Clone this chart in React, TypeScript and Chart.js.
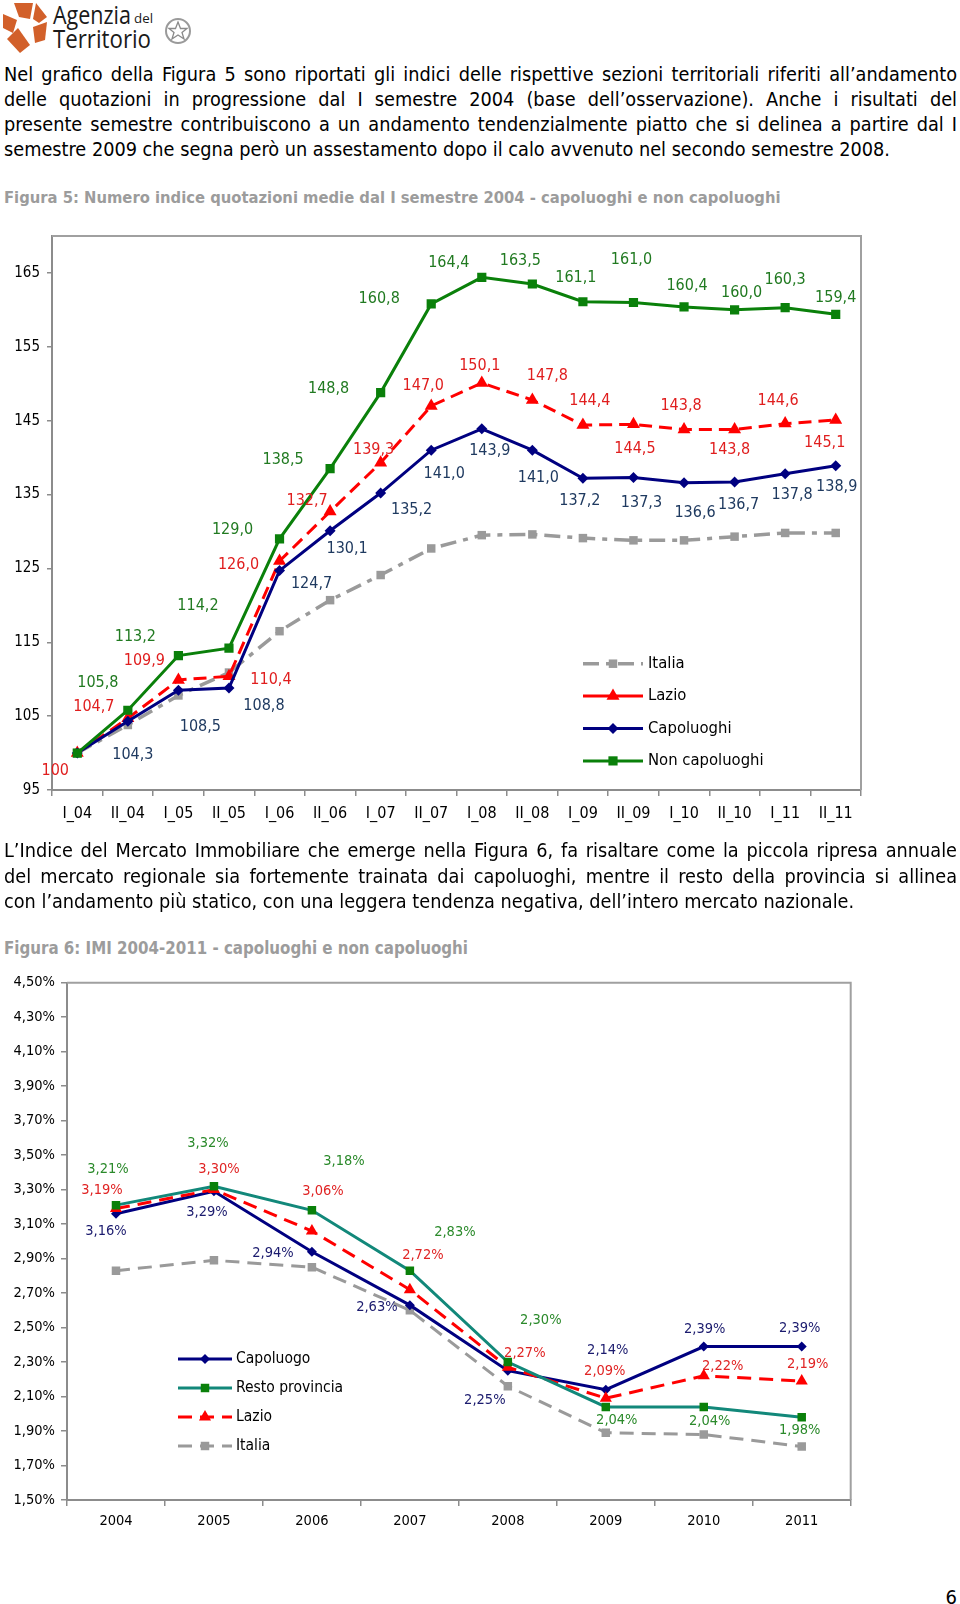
import React, { useEffect, useRef, useMemo } from 'react';
import { Chart, registerables } from 'chart.js';

Chart.register(...registerables);

const FONT = "'DejaVu Sans Condensed', 'DejaVu Sans', Verdana, sans-serif";
Chart.defaults.font.family = FONT;

// ---------- Figura 5 data ----------
const semLabels = ['I_04', 'II_04', 'I_05', 'II_05', 'I_06', 'II_06', 'I_07', 'II_07', 'I_08', 'II_08', 'I_09', 'II_09', 'I_10', 'II_10', 'I_11', 'II_11'];
const italia5 = [100, 103.8, 107.8, 110.9, 116.5, 120.7, 124.1, 127.7, 129.5, 129.6, 129.1, 128.8, 128.8, 129.3, 129.8, 129.8];
const lazio5 = [100, 104.7, 109.9, 110.4, 126.0, 132.7, 139.3, 147.0, 150.1, 147.8, 144.4, 144.5, 143.8, 143.8, 144.6, 145.1];
const capoluoghi5 = [100, 104.3, 108.5, 108.8, 124.7, 130.1, 135.2, 141.0, 143.9, 141.0, 137.2, 137.3, 136.6, 136.7, 137.8, 138.9];
const nonCapoluoghi5 = [100, 105.8, 113.2, 114.2, 129.0, 138.5, 148.8, 160.8, 164.4, 163.5, 161.1, 161.0, 160.4, 160.0, 160.3, 159.4];
const yTicks5 = [95, 105, 115, 125, 135, 145, 155, 165];

// ---------- Figura 6 data ----------
const years6 = ['2004', '2005', '2006', '2007', '2008', '2009', '2010', '2011'];
const capoluogo6 = [3.16, 3.29, 2.94, 2.63, 2.25, 2.14, 2.39, 2.39];
const resto6 = [3.21, 3.32, 3.18, 2.83, 2.30, 2.04, 2.04, 1.98];
const lazio6 = [3.19, 3.30, 3.06, 2.72, 2.27, 2.09, 2.22, 2.19];
const italia6 = [2.83, 2.89, 2.85, 2.60, 2.16, 1.89, 1.88, 1.81];
const yTicks6 = [1.5, 1.7, 1.9, 2.1, 2.3, 2.5, 2.7, 2.9, 3.1, 3.3, 3.5, 3.7, 3.9, 4.1, 4.3, 4.5];

// ---------- label placement (pixel offsets from each point) ----------
type Off = [number, number] | null;
const nonCap5Off: Off[] = [null, [-30, -27], [-43, -19], [-31, -42], [-47, -9], [-47, -9], [-52, -4], [-52, -5], [-33, -15], [-12, -23], [-7, -24], [-2, -43], [3, -21], [7, -17], [0, -28], [0, -16]];
const lazio5Off: Off[] = [[-22, 18], [-34, -12], [-34, -19], [42, 4], [-41, 4], [-23, -11], [-7, -13], [-8, -20], [-2, -17], [15, -24], [7, -24], [1.5, 24], [-3, -24], [-5, 20], [-7, -23], [-11, 23]];
const cap5Off: Off[] = [null, [5, 34], [22, 37], [35, 18], [32, 13], [17, 18], [31, 17], [13, 24], [8, 22], [6, 28], [-3, 23], [8, 25], [11, 30], [4, 23], [7, 21], [1, 21]];

const cap6Off: Off[] = [[-10, 17], [-7, 21], [-39, 2], [-33, 2], [-23, 30], [2, -39], [1, -17], [-2, -18]];
const resto6Off: Off[] = [[-8, -36], [-6, -43], [32, -49], [45, -38], [33, -42], [11, 13], [6, 14], [-2, 13]];
const lazio6Off: Off[] = [[-14, -18], [5, -20], [11, -40], [13, -34], [17, -14], [-1, -27], [19, -10], [6, -17]];

const fmt5 = (v: number) => (v === 100 ? '100' : v.toFixed(1).replace('.', ','));
const fmt6 = (v: number) => v.toFixed(2).replace('.', ',') + '%';

const AXIS = '#8c8c8c';

function drawMarker(ctx: CanvasRenderingContext2D, style: string, x: number, y: number, r: number, color: string) {
  ctx.save();
  ctx.fillStyle = color;
  ctx.beginPath();
  if (style === 'rect') {
    const s = Math.SQRT1_2 * r;
    ctx.rect(x - s, y - s, 2 * s, 2 * s);
  } else if (style === 'rectRot') {
    ctx.moveTo(x, y - r);
    ctx.lineTo(x + r, y);
    ctx.lineTo(x, y + r);
    ctx.lineTo(x - r, y);
    ctx.closePath();
  } else if (style === 'triangle') {
    ctx.moveTo(x, y - r);
    ctx.lineTo(x + Math.cos(Math.PI / 6) * r, y + r / 2);
    ctx.lineTo(x - Math.cos(Math.PI / 6) * r, y + r / 2);
    ctx.closePath();
  }
  ctx.fill();
  ctx.restore();
}

const pointLabelPlugin = {
  id: 'pointLabelPlugin',
  afterDatasetsDraw(chart: any) {
    const ctx = chart.ctx;
    chart.data.datasets.forEach((ds: any, di: number) => {
      const cfg = ds.pointLabels;
      if (!cfg) return;
      const meta = chart.getDatasetMeta(di);
      ctx.save();
      ctx.font = `${cfg.size}px ${FONT}`;
      ctx.fillStyle = cfg.color;
      ctx.textAlign = 'center';
      ctx.textBaseline = 'middle';
      meta.data.forEach((pt: any, i: number) => {
        const off = cfg.offsets[i];
        if (!off) return;
        ctx.fillText(cfg.format(ds.data[i]), pt.x + off[0], pt.y + off[1]);
      });
      ctx.restore();
    });
  },
};

const framePlugin = {
  id: 'framePlugin',
  beforeDatasetsDraw(chart: any) {
    const { left, top, right, bottom } = chart.chartArea;
    const ctx = chart.ctx;
    ctx.save();
    ctx.strokeStyle = '#a0a0a0';
    ctx.lineWidth = 2;
    ctx.beginPath();
    ctx.moveTo(left, top);
    ctx.lineTo(right, top);
    ctx.lineTo(right, bottom);
    ctx.stroke();
    ctx.restore();
  },
};

const boxLegendPlugin = {
  id: 'boxLegend',
  afterDraw(chart: any) {
    const o = chart.config.options.boxLegendCfg;
    if (!o) return;
    const { left, top } = chart.chartArea;
    const ctx = chart.ctx;
    o.items.forEach((it: any, k: number) => {
      const y = top + o.y + k * o.dy;
      const x0 = left + o.x;
      ctx.save();
      ctx.strokeStyle = it.color;
      ctx.lineWidth = it.width;
      ctx.setLineDash(it.dash || []);
      ctx.beginPath();
      ctx.moveTo(x0, y);
      ctx.lineTo(x0 + o.len, y);
      ctx.stroke();
      ctx.setLineDash([]);
      drawMarker(ctx, it.marker, x0 + o.len / 2, y, it.radius, it.markerColor);
      ctx.fillStyle = '#000';
      ctx.font = `${o.size}px ${FONT}`;
      ctx.textAlign = 'left';
      ctx.textBaseline = 'middle';
      ctx.fillText(it.label, x0 + o.len + o.gap, y);
      ctx.restore();
    });
  },
};

function lineDs(label: string, data: number[], color: string, width: number, dash: number[], pointStyle: string, radius: number, pointColor: string, order: number, pointLabels: any) {
  return {
    label,
    data,
    borderColor: color,
    borderWidth: width,
    borderDash: dash,
    pointStyle,
    pointRadius: radius,
    pointBackgroundColor: pointColor,
    pointBorderColor: pointColor,
    pointBorderWidth: 0,
    tension: 0,
    fill: false,
    order,
    pointLabels,
  };
}

function Figura5Chart() {
  const ref = useRef<HTMLCanvasElement | null>(null);
  useEffect(() => {
    if (!ref.current) return;
    const chart = new Chart(ref.current, {
      type: 'line',
      data: {
        labels: semLabels,
        datasets: [
          lineDs('Non capoluoghi', nonCapoluoghi5, '#0a800a', 3, [], 'rect', 6.5, '#0a800a', 1, { offsets: nonCap5Off, color: '#217a21', size: 16, format: fmt5 }),
          lineDs('Capoluoghi', capoluoghi5, '#000080', 3, [], 'rectRot', 5.5, '#000080', 2, { offsets: cap5Off, color: '#1f3a60', size: 16, format: fmt5 }),
          lineDs('Lazio', lazio5, '#ff0000', 3, [13, 7], 'triangle', 7.5, '#ff0000', 3, { offsets: lazio5Off, color: '#e01e1e', size: 16, format: fmt5 }),
          lineDs('Italia', italia5, '#9a9a9a', 3.5, [16, 7, 5, 7], 'rect', 6, '#9a9a9a', 4, null),
        ],
      } as any,
      options: {
        animation: false,
        responsive: false,
        maintainAspectRatio: false,
        events: [],
        layout: { padding: { top: 13, right: 99, left: 0, bottom: 0 } },
        plugins: { legend: { display: false }, tooltip: { enabled: false } },
        boxLegendCfg: {
          x: 531, y: 427.7, dy: 32.4, len: 60, gap: 5, size: 16.5,
          items: [
            { label: 'Italia', color: '#9a9a9a', width: 3.5, dash: [16, 7, 5, 7], marker: 'rect', radius: 6, markerColor: '#9a9a9a' },
            { label: 'Lazio', color: '#ff0000', width: 3, dash: [], marker: 'triangle', radius: 7.5, markerColor: '#ff0000' },
            { label: 'Capoluoghi', color: '#000080', width: 3, dash: [], marker: 'rectRot', radius: 5.5, markerColor: '#000080' },
            { label: 'Non capoluoghi', color: '#0a800a', width: 3, dash: [], marker: 'rect', radius: 6.5, markerColor: '#0a800a' },
          ],
        },
        scales: {
          x: {
            type: 'category',
            offset: true,
            grid: { display: true, offset: true, drawOnChartArea: false, drawTicks: true, tickLength: 6, color: AXIS, lineWidth: 1.5 },
            border: { display: true, color: AXIS, width: 2 },
            ticks: { color: '#000', font: { family: FONT, size: 16 }, padding: 8, maxRotation: 0, autoSkip: false },
            afterFit: (s: any) => { s.height = 50; },
          },
          y: {
            min: 95,
            max: 170,
            afterBuildTicks: (s: any) => { s.ticks = yTicks5.map((v) => ({ value: v })); },
            grid: { drawOnChartArea: false, drawTicks: true, tickLength: 5, color: AXIS, lineWidth: 1.5 },
            border: { display: true, color: AXIS, width: 2 },
            ticks: { color: '#000', font: { family: FONT, size: 15 }, padding: 7, callback: (v: any) => String(v) },
            afterFit: (s: any) => { s.width = 52; },
          },
        },
      } as any,
      plugins: [framePlugin, pointLabelPlugin, boxLegendPlugin],
    });
    return () => chart.destroy();
  }, []);
  return <canvas ref={ref} width={960} height={620} style={{ position: 'absolute', left: 0, top: 220, width: 960, height: 620 }} />;
}

function Figura6Chart() {
  const ref = useRef<HTMLCanvasElement | null>(null);
  useEffect(() => {
    if (!ref.current) return;
    const chart = new Chart(ref.current, {
      type: 'line',
      data: {
        labels: years6,
        datasets: [
          lineDs('Resto provincia', resto6, '#12887a', 3, [], 'rect', 6, '#0a800a', 1, { offsets: resto6Off, color: '#2b8a2b', size: 14.5, format: fmt6 }),
          lineDs('Lazio', lazio6, '#ff0000', 3, [14, 8], 'triangle', 7, '#ff0000', 2, { offsets: lazio6Off, color: '#e02424', size: 14.5, format: fmt6 }),
          lineDs('Capoluogo', capoluogo6, '#000080', 3, [], 'rectRot', 5, '#000080', 3, { offsets: cap6Off, color: '#1b1b6e', size: 14.5, format: fmt6 }),
          lineDs('Italia', italia6, '#9a9a9a', 3, [14, 8], 'rect', 6, '#9a9a9a', 4, null),
        ],
      } as any,
      options: {
        animation: false,
        responsive: false,
        maintainAspectRatio: false,
        events: [],
        layout: { padding: { top: 22.7, right: 109.3, left: 0, bottom: 0 } },
        plugins: { legend: { display: false }, tooltip: { enabled: false } },
        boxLegendCfg: {
          x: 111, y: 376.3, dy: 29, len: 54, gap: 4, size: 15.5,
          items: [
            { label: 'Capoluogo', color: '#000080', width: 3, dash: [], marker: 'rectRot', radius: 5, markerColor: '#000080' },
            { label: 'Resto provincia', color: '#12887a', width: 3, dash: [], marker: 'rect', radius: 6, markerColor: '#0a800a' },
            { label: 'Lazio', color: '#ff0000', width: 3, dash: [14, 8], marker: 'triangle', radius: 7, markerColor: '#ff0000' },
            { label: 'Italia', color: '#9a9a9a', width: 3, dash: [14, 8], marker: 'rect', radius: 6, markerColor: '#9a9a9a' },
          ],
        },
        scales: {
          x: {
            type: 'category',
            offset: true,
            grid: { display: true, offset: true, drawOnChartArea: false, drawTicks: true, tickLength: 6, color: AXIS, lineWidth: 1.5 },
            border: { display: true, color: AXIS, width: 2 },
            ticks: { color: '#000', font: { family: FONT, size: 14.5 }, padding: 7, maxRotation: 0, autoSkip: false },
            afterFit: (s: any) => { s.height = 45; },
          },
          y: {
            min: 1.5,
            max: 4.5,
            afterBuildTicks: (s: any) => { s.ticks = yTicks6.map((v) => ({ value: v })); },
            grid: { drawOnChartArea: false, drawTicks: true, tickLength: 6, color: AXIS, lineWidth: 1.5 },
            border: { display: true, color: AXIS, width: 2 },
            ticks: { color: '#000', font: { family: FONT, size: 14.5 }, padding: 6, callback: (v: any) => fmt6(Number(v)) },
            afterFit: (s: any) => { s.width = 67; },
          },
        },
      } as any,
      plugins: [framePlugin, pointLabelPlugin, boxLegendPlugin],
    });
    return () => chart.destroy();
  }, []);
  return <canvas ref={ref} width={960} height={585} style={{ position: 'absolute', left: 0, top: 960, width: 960, height: 585 }} />;
}

const para1 = [
  'Nel grafico della Figura 5 sono riportati gli indici delle rispettive sezioni territoriali riferiti all\u2019andamento',
  'delle quotazioni in progressione dal I semestre 2004 (base dell\u2019osservazione). Anche i risultati del',
  'presente semestre contribuiscono a un andamento tendenzialmente piatto che si delinea a partire dal I',
  'semestre 2009 che segna per\u00f2 un assestamento dopo il calo avvenuto nel secondo semestre 2008.',
];
const para2 = [
  'L\u2019Indice del Mercato Immobiliare che emerge nella Figura 6, fa risaltare come la piccola ripresa annuale',
  'del mercato regionale sia fortemente trainata dai capoluoghi, mentre il resto della provincia si allinea',
  'con l\u2019andamento pi\u00f9 statico, con una leggera tendenza negativa, dell\u2019intero mercato nazionale.',
];
const title5 = 'Figura 5: Numero indice quotazioni medie dal I semestre 2004 - capoluoghi e non capoluoghi';
const title6 = 'Figura 6: IMI 2004-2011 - capoluoghi e non capoluoghi';

function fitSize(text: string, width: number, weight: string) {
  const c = document.createElement('canvas').getContext('2d');
  if (!c) return 19;
  c.font = `${weight} 20px ${FONT}`;
  return (20 * width) / c.measureText(text).width;
}

function Paragraph({ lines, top, pitch, size }: { lines: string[]; top: number; pitch: number; size: number }) {
  return (
    <>
      {lines.map((l, i) => {
        const last = i === lines.length - 1;
        return (
          <div
            key={i}
            style={{
              position: 'absolute', left: 4, top: top + i * pitch, width: 953, height: 25,
              lineHeight: '25px', fontSize: size, fontFamily: FONT, color: '#000', whiteSpace: 'nowrap',
              textAlign: last ? 'left' : 'justify', textAlignLast: last ? 'left' : 'justify',
            } as any}
          >
            {l}
          </div>
        );
      })}
    </>
  );
}

function Logo() {
  const lf = "'Open Sans', 'DejaVu Sans', sans-serif";
  return (
    <svg width={200} height={56} style={{ position: 'absolute', left: 0, top: 0 }}>
      <g fill="#d2602a">
        <polygon points="14,3 33,3 30,19 19,17" />
        <polygon points="36,3 47,17 39,23 33,19" />
        <polygon points="3,14 17,20 13,33 3,28" />
        <polygon points="7,39 18,28 30,45 20,53" />
        <polygon points="33,27 47,22 45,40 35,43" />
      </g>
      <text x={53} y={24} fontFamily={lf} fontSize={26} textLength={78} lengthAdjust="spacingAndGlyphs" fill="#1a1a1a">Agenzia</text>
      <text x={134} y={23} fontFamily={lf} fontSize={13} textLength={19} lengthAdjust="spacingAndGlyphs" fill="#1a1a1a">del</text>
      <text x={53} y={48} fontFamily={lf} fontSize={26} textLength={98} lengthAdjust="spacingAndGlyphs" fill="#1a1a1a">Territorio</text>
      <circle cx={178} cy={31} r={12} fill="none" stroke="#9a9a9a" strokeWidth={2} />
      <polygon points="178,22 180.5,28.5 187,28.5 182,32.5 184,39 178,35 172,39 174,32.5 169,28.5 175.5,28.5" fill="none" stroke="#8a8a8a" strokeWidth={1.3} />
    </svg>
  );
}

export default function App() {
  const sizes = useMemo(() => {
    const b1 = fitSize(para1[3], 865, 'normal');
    const b2 = fitSize(para2[2], 871, 'normal');
    const t1 = fitSize(title5, 777, 'bold');
    const t2 = fitSize(title6, 464, 'bold');
    return { body: (b1 + b2) / 2, t1, t2 };
  }, []);
  return (
    <div style={{ position: 'absolute', left: 0, top: 0, width: 960, height: 1604, background: '#fff', overflow: 'hidden' }}>
      <Logo />
      <Paragraph lines={para1} top={62} pitch={25} size={sizes.body} />
      <div style={{ position: 'absolute', left: 4, top: 185, lineHeight: '25px', fontSize: sizes.t1, fontWeight: 'bold', fontFamily: FONT, color: '#9c9c9c', whiteSpace: 'nowrap' }}>{title5}</div>
      <Figura5Chart />
      <Paragraph lines={para2} top={838} pitch={25.5} size={sizes.body} />
      <div style={{ position: 'absolute', left: 4, top: 935.5, lineHeight: '25px', fontSize: sizes.t2, fontWeight: 'bold', fontFamily: FONT, color: '#9c9c9c', whiteSpace: 'nowrap' }}>{title6}</div>
      <Figura6Chart />
      <div style={{ position: 'absolute', right: 3, top: 1584, lineHeight: '26px', fontSize: 20, fontFamily: FONT, color: '#000' }}>6</div>
    </div>
  );
}
